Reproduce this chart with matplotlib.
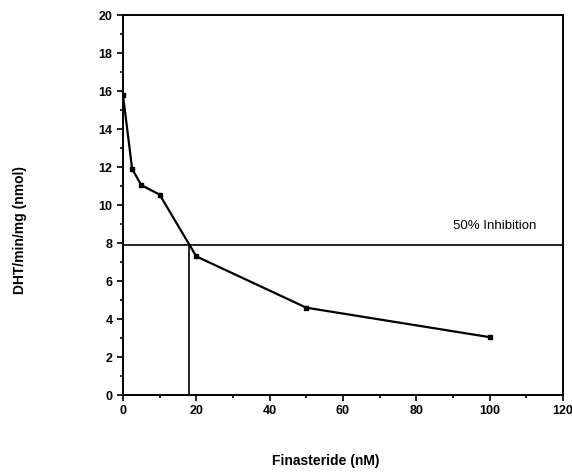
import matplotlib
matplotlib.use("Agg")
import matplotlib.pyplot as plt
from matplotlib.ticker import MultipleLocator

plt.rcParams['font.family'] = ['Liberation Sans', 'DejaVu Sans']

conc = [0, 2.5, 5, 10, 20, 50, 100]
dht = [15.8, 11.9, 11.05, 10.55, 7.3, 4.6, 3.05]
ic50_x = 18
ic50_y = 7.9

fig = plt.figure(figsize=(5.72, 4.72), dpi=100)
ax = fig.add_axes([0.215, 0.163, 0.769, 0.805])
ax.plot(conc, dht, color='black', lw=1.6, marker='s', ms=3)
ax.axhline(ic50_y, color='black', lw=1.2)
ax.plot([ic50_x, ic50_x], [0, ic50_y], color='black', lw=1.2)
ax.text(90, 8.9, '50% Inhibition', fontsize=9.5, va='center')

ax.set_xlim(0, 120)
ax.set_ylim(0, 20)
ax.xaxis.set_major_locator(MultipleLocator(20))
ax.xaxis.set_minor_locator(MultipleLocator(10))
ax.yaxis.set_major_locator(MultipleLocator(2))
ax.yaxis.set_minor_locator(MultipleLocator(1))
ax.tick_params(which='both', direction='out', labelsize=9, width=1.2)
ax.tick_params(which='major', length=4)
ax.tick_params(which='minor', length=2.5)
for lab in ax.get_xticklabels() + ax.get_yticklabels():
    lab.set_fontweight('bold')
for s in ax.spines.values():
    s.set_linewidth(1.4)
ax.set_xlabel('Finasteride (nM)', fontsize=10, fontweight='bold', va='center')
ax.set_ylabel('DHT/min/mg (nmol)', fontsize=10, fontweight='bold', va='center')
ax.xaxis.set_label_coords(0.461, -0.174)
ax.yaxis.set_label_coords(-0.234, 0.434)
fig.savefig('out.png', dpi=100)
